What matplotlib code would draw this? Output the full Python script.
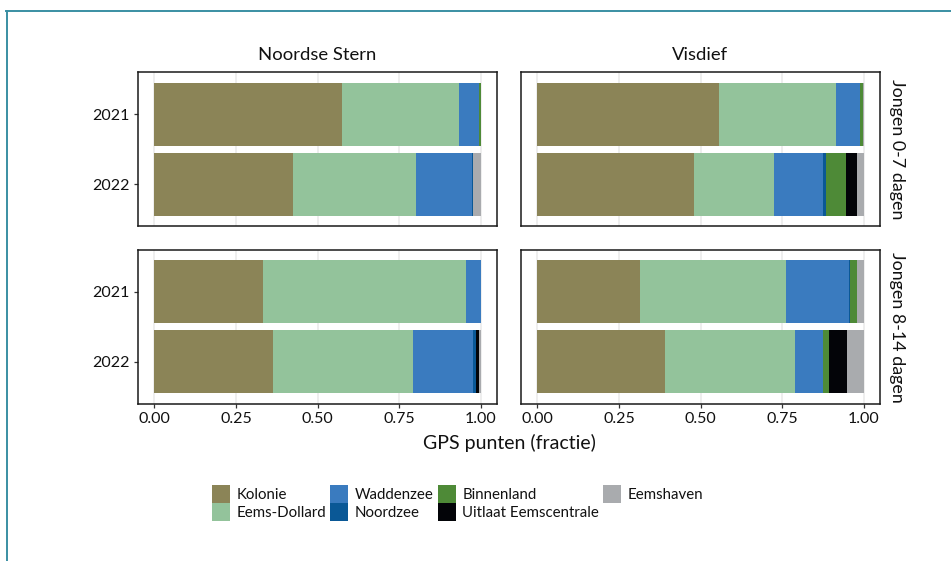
import matplotlib
matplotlib.use("Agg")
import matplotlib.pyplot as plt
from matplotlib.patches import Patch
from matplotlib.lines import Line2D
import numpy as np

plt.rcParams['font.family'] = ['Lato', 'DejaVu Sans']

# ---- data ----
locaties = ["Kolonie", "Eems-Dollard", "Waddenzee", "Noordzee",
            "Binnenland", "Uitlaat Eemscentrale", "Eemshaven"]
kleuren = ["#8b8457", "#93c39b", "#3a7bbf", "#0a5896",
           "#4e8a37", "#030408", "#a9abae"]
jaren = ["2021", "2022"]
soorten = ["Noordse Stern", "Visdief"]
leeftijden = ["Jongen 0-7 dagen", "Jongen 8-14 dagen"]

# fractions per location (order as locaties), per year
ns_0_7_2021 = [0.574, 0.359, 0.061, 0.000, 0.006, 0.000, 0.000]
ns_0_7_2022 = [0.426, 0.376, 0.170, 0.004, 0.000, 0.000, 0.024]
vd_0_7_2021 = [0.558, 0.356, 0.074, 0.000, 0.010, 0.000, 0.002]
vd_0_7_2022 = [0.479, 0.245, 0.150, 0.012, 0.059, 0.034, 0.021]
ns_8_14_2021 = [0.334, 0.620, 0.046, 0.000, 0.000, 0.000, 0.000]
ns_8_14_2022 = [0.365, 0.428, 0.183, 0.009, 0.000, 0.009, 0.006]
vd_8_14_2021 = [0.316, 0.445, 0.193, 0.003, 0.021, 0.002, 0.020]
vd_8_14_2022 = [0.390, 0.401, 0.084, 0.000, 0.018, 0.055, 0.052]

panels = {
    (0, 0): [ns_0_7_2021, ns_0_7_2022],
    (0, 1): [vd_0_7_2021, vd_0_7_2022],
    (1, 0): [ns_8_14_2021, ns_8_14_2022],
    (1, 1): [vd_8_14_2021, vd_8_14_2022],
}

xticks = [0.0, 0.25, 0.5, 0.75, 1.0]
xticklabels = ["0.00", "0.25", "0.50", "0.75", "1.00"]

W, H = 951, 561
fig = plt.figure(figsize=(W / 100, H / 100), dpi=100)

col_left = [138, 521]
col_w = 359
row_top = [72, 250]
row_h = 154

txt_col = "#111111"

for (r, c), rows in panels.items():
    ax = fig.add_axes([col_left[c] / W, 1 - (row_top[r] + row_h) / H,
                       col_w / W, row_h / H])
    ypos = np.arange(len(jaren))
    for yi, vals in enumerate(rows):
        left = 0.0
        for k, v in enumerate(vals):
            if v > 0:
                ax.barh(ypos[yi], v, left=left, height=0.9,
                        color=kleuren[k], linewidth=0, zorder=2)
            left += v
    ax.set_xlim(-0.05, 1.05)
    ax.set_ylim(len(jaren) - 0.4, -0.6)
    ax.set_xticks(xticks)
    ax.set_yticks(ypos)
    ax.xaxis.grid(True, color="#ebebeb", linewidth=1.2, zorder=0)
    ax.set_axisbelow(True)
    for s in ax.spines.values():
        s.set_color("#1a1a1a")
        s.set_linewidth(1.1)
    ax.tick_params(axis="both", direction="out", length=3, width=0.9,
                   color="#333333", labelsize=11.5, labelcolor=txt_col, pad=3)
    if c == 0:
        ax.set_yticklabels(jaren)
    else:
        ax.set_yticklabels([])
        ax.tick_params(axis="y", length=0)
    if r == 1:
        ax.set_xticklabels(xticklabels)
    else:
        ax.set_xticklabels([])
        ax.tick_params(axis="x", length=0)

# strip labels
for c, naam in enumerate(soorten):
    fig.text((col_left[c] + col_w / 2) / W, 1 - 55 / H, naam,
             ha="center", va="center", fontsize=13.3, color=txt_col)
for r, naam in enumerate(leeftijden):
    fig.text(897 / W, 1 - (row_top[r] + row_h / 2) / H, naam,
             ha="center", va="center", rotation=270, fontsize=12.9,
             color=txt_col)

fig.text(509 / W, 1 - 443 / H, "GPS punten (fractie)", ha="center",
         va="center", fontsize=14, color=txt_col)

# legend
fs = 10.8
fpx = fs * 100 / 72
handles = [Patch(facecolor=k, edgecolor="none") for k in kleuren]
leg = fig.legend(handles, locaties, ncol=4, loc="upper left",
                 bbox_to_anchor=(212 / W, 1 - 485 / H), frameon=False,
                 borderpad=0, borderaxespad=0, fontsize=fs,
                 handlelength=18 / fpx, handleheight=22 / fpx,
                 handletextpad=7 / fpx, columnspacing=3.5 / fpx,
                 labelspacing=0)
for t in leg.get_texts():
    t.set_color(txt_col)

# outer border (cropped box)
bc = "#3a8fa3"
fig.add_artist(Line2D([6 / W, 1.0], [1 - 11 / H, 1 - 11 / H],
                      transform=fig.transFigure, color=bc, linewidth=1.4))
fig.add_artist(Line2D([6.5 / W, 6.5 / W], [1 - 11 / H, 0.0],
                      transform=fig.transFigure, color=bc, linewidth=1.4))

fig.savefig("out.png", dpi=100)
